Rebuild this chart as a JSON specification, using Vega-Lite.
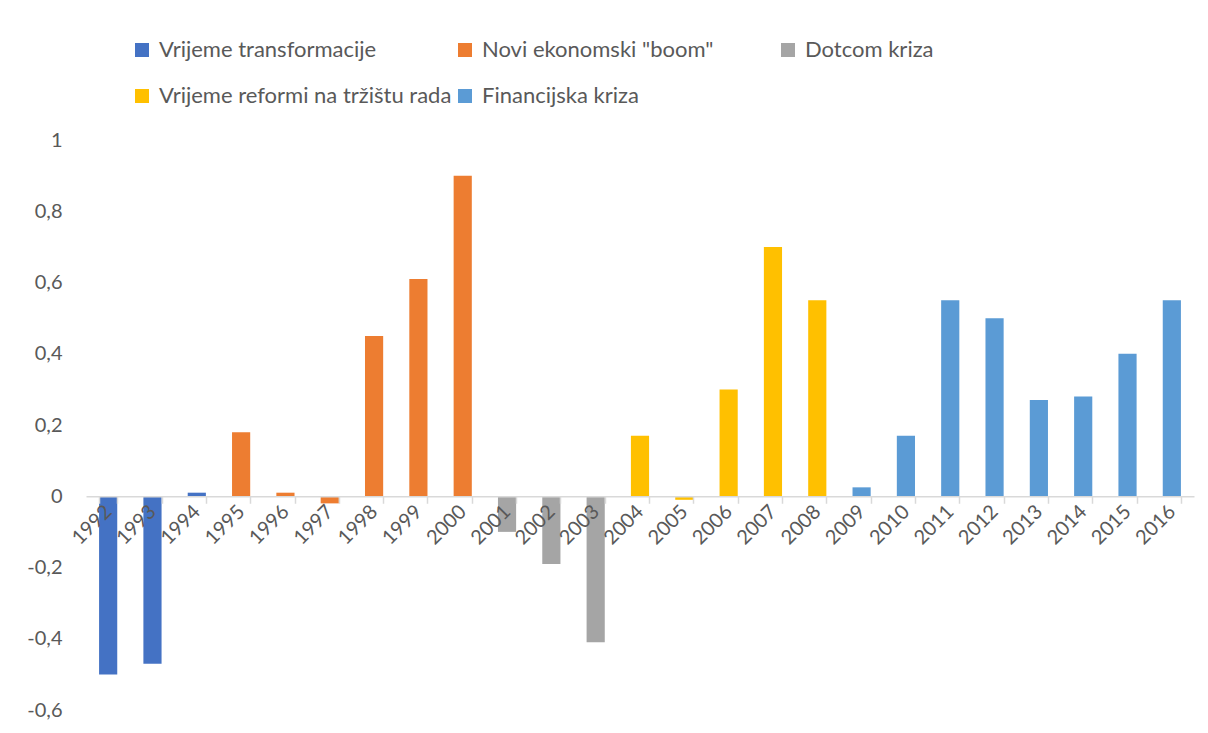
{
  "$schema": "https://vega.github.io/schema/vega-lite/v6.json",
  "width": 1108,
  "height": 570,
  "autosize": {"type": "none"},
  "padding": {"left": 86, "top": 140, "right": 14, "bottom": 23},
  "background": "white",
  "config": {
    "view": {"stroke": null},
    "font": "Lato"
  },
  "data": {
    "values": [
      {"godina": "1992", "vrijednost": -0.50, "razdoblje": "Vrijeme transformacije"},
      {"godina": "1993", "vrijednost": -0.47, "razdoblje": "Vrijeme transformacije"},
      {"godina": "1994", "vrijednost": 0.01, "razdoblje": "Vrijeme transformacije"},
      {"godina": "1995", "vrijednost": 0.18, "razdoblje": "Novi ekonomski \"boom\""},
      {"godina": "1996", "vrijednost": 0.01, "razdoblje": "Novi ekonomski \"boom\""},
      {"godina": "1997", "vrijednost": -0.02, "razdoblje": "Novi ekonomski \"boom\""},
      {"godina": "1998", "vrijednost": 0.45, "razdoblje": "Novi ekonomski \"boom\""},
      {"godina": "1999", "vrijednost": 0.61, "razdoblje": "Novi ekonomski \"boom\""},
      {"godina": "2000", "vrijednost": 0.90, "razdoblje": "Novi ekonomski \"boom\""},
      {"godina": "2001", "vrijednost": -0.10, "razdoblje": "Dotcom kriza"},
      {"godina": "2002", "vrijednost": -0.19, "razdoblje": "Dotcom kriza"},
      {"godina": "2003", "vrijednost": -0.41, "razdoblje": "Dotcom kriza"},
      {"godina": "2004", "vrijednost": 0.17, "razdoblje": "Vrijeme reformi na tržištu rada"},
      {"godina": "2005", "vrijednost": -0.01, "razdoblje": "Vrijeme reformi na tržištu rada"},
      {"godina": "2006", "vrijednost": 0.30, "razdoblje": "Vrijeme reformi na tržištu rada"},
      {"godina": "2007", "vrijednost": 0.70, "razdoblje": "Vrijeme reformi na tržištu rada"},
      {"godina": "2008", "vrijednost": 0.55, "razdoblje": "Vrijeme reformi na tržištu rada"},
      {"godina": "2009", "vrijednost": 0.025, "razdoblje": "Financijska kriza"},
      {"godina": "2010", "vrijednost": 0.17, "razdoblje": "Financijska kriza"},
      {"godina": "2011", "vrijednost": 0.55, "razdoblje": "Financijska kriza"},
      {"godina": "2012", "vrijednost": 0.50, "razdoblje": "Financijska kriza"},
      {"godina": "2013", "vrijednost": 0.27, "razdoblje": "Financijska kriza"},
      {"godina": "2014", "vrijednost": 0.28, "razdoblje": "Financijska kriza"},
      {"godina": "2015", "vrijednost": 0.40, "razdoblje": "Financijska kriza"},
      {"godina": "2016", "vrijednost": 0.55, "razdoblje": "Financijska kriza"}
    ]
  },
  "mark": {"type": "bar"},
  "encoding": {
    "x": {
      "field": "godina",
      "type": "ordinal",
      "sort": null,
      "scale": {"paddingInner": 0.59, "paddingOuter": 0.295},
      "axis": {
        "title": null,
        "offset": -213.75,
        "domainColor": "#D9D9D9",
        "domainWidth": 1.5,
        "tickColor": "#D9D9D9",
        "tickWidth": 1.5,
        "tickSize": 7,
        "tickBand": "extent",
        "labelAngle": -45,
        "labelAlign": "right",
        "labelBaseline": "middle",
        "labelFontSize": 20,
        "labelColor": "#595959",
        "labelPadding": 5,
        "labelOverlap": false,
        "grid": false,
        "zindex": 1
      }
    },
    "y": {
      "field": "vrijednost",
      "type": "quantitative",
      "scale": {"domain": [-0.6, 1], "nice": false, "zero": false},
      "axis": {
        "title": null,
        "grid": false,
        "domain": false,
        "ticks": false,
        "values": [-0.6, -0.4, -0.2, 0, 0.2, 0.4, 0.6, 0.8, 1],
        "labelExpr": "replace(toString(datum.value), '.', ',')",
        "labelFontSize": 20,
        "labelColor": "#595959",
        "labelPadding": 24
      }
    },
    "color": {
      "field": "razdoblje",
      "type": "nominal",
      "scale": {
        "domain": ["Vrijeme transformacije", "Novi ekonomski \"boom\"", "Dotcom kriza", "Vrijeme reformi na tržištu rada", "Financijska kriza"],
        "range": ["#4472C4", "#ED7D31", "#A5A5A5", "#FFC000", "#5B9BD5"]
      },
      "legend": {
        "title": null,
        "orient": "none",
        "legendX": 45,
        "legendY": -101,
        "direction": "horizontal",
        "columns": 3,
        "gridAlign": "all",
        "columnPadding": 2,
        "rowPadding": 24,
        "symbolType": "square",
        "symbolSize": 196,
        "symbolStrokeWidth": 0,
        "labelFontSize": 22,
        "labelColor": "#595959",
        "labelOffset": 6,
        "labelLimit": 400
      }
    }
  }
}
